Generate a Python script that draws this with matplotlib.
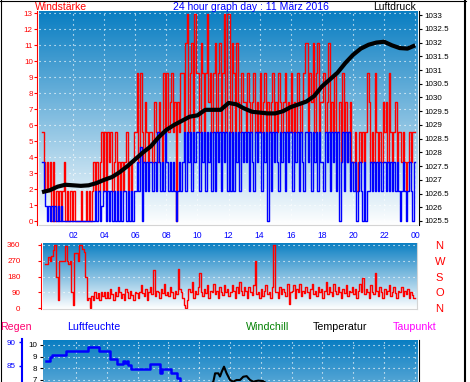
import numpy as np
import matplotlib
matplotlib.use('Agg')
import matplotlib.pyplot as plt
from matplotlib.lines import Line2D

plt.rcParams['font.family'] = ['Liberation Sans', 'DejaVu Sans']

KNOT = 1.852  # km/h per knot

# wind gust and mean wind in knots, one value every 6 minutes (10 per hour)
gust_kn = [
    3, 2, 1, 2, 1, 2, 0, 2, 0, 1,
    0, 1, 0, 1, 2, 0, 1, 0, 1, 0,
    1, 0, 0, 0, 0, 1, 0, 0, 1, 0,
    1, 0, 1, 2, 1, 2, 1, 2, 3, 1,
    3, 1, 3, 2, 3, 1, 2, 3, 1, 2,
    1, 2, 1, 2, 3, 1, 2, 1, 2, 3,
    3, 5, 2, 5, 3, 2, 4, 3, 2, 3,
    3, 2, 4, 3, 2, 4, 3, 2, 5, 3,
    5, 3, 4, 5, 3, 4, 0, 4, 3, 5,
    5, 3, 6, 7, 3, 5, 6, 3, 7, 5,
    5, 3, 6, 5, 3, 5, 7, 4, 5, 3,
    5, 6, 3, 5, 6, 3, 5, 7, 3, 7,
    7, 3, 6, 5, 3, 6, 4, 3, 5, 4,
    4, 3, 5, 4, 3, 4, 5, 3, 4, 3,
    5, 3, 4, 5, 3, 4, 3, 4, 5, 3,
    4, 3, 5, 4, 3, 4, 5, 3, 4, 3,
    5, 3, 4, 3, 5, 4, 3, 4, 5, 6,
    6, 3, 5, 4, 6, 3, 5, 6, 3, 4,
    4, 5, 3, 4, 6, 3, 4, 3, 5, 3,
    3, 4, 2, 5, 3, 4, 2, 3, 4, 2,
    2, 3, 1, 2, 3, 2, 3, 2, 3, 5,
    4, 2, 3, 2, 5, 3, 2, 3, 2, 4,
    3, 4, 2, 5, 3, 2, 3, 4, 2, 3,
    3, 2, 3, 2, 1, 2, 3, 2, 3, 3,
]
avg_kn = [
    2, 1, 0.5, 0, 0.5, 0, 0.5, 0, 0.5, 0,
    0.5, 0, 0.5, 0, 0, 0, 0, 0, 0, 0,
    0, 0, 0, 0, 0, 0, 0, 0, 0, 0,
    0, 0, 0, 0, 1, 0, 1, 0, 0.5, 1,
    1, 0, 1, 0, 1, 0, 1, 0, 1, 0,
    1, 0, 1, 1, 0, 1, 0, 1, 0, 1,
    1, 2, 1, 2.5, 0, 2, 1, 2, 1, 2,
    2, 1, 2, 1, 3, 2, 1, 2, 1, 3,
    2, 1, 2, 1, 2, 1, 0, 1, 2, 1,
    2, 3, 1, 3, 2, 3, 1, 3, 2, 3,
    3, 1, 3, 2, 3, 1, 3, 2, 3, 1,
    3, 1, 3, 2, 3, 1, 3, 2, 3, 1,
    3, 1, 3, 1, 3, 2, 3, 1, 3, 2,
    3, 2, 3, 1, 3, 2, 1, 3, 2, 3,
    3, 1, 3, 2, 3, 0, 3, 1, 3, 2,
    3, 2, 1, 3, 2, 3, 1, 3, 2, 3,
    3, 1, 3, 2, 3, 1, 3, 2, 1, 3,
    3, 2, 3, 1, 3, 2, 3, 1, 3, 2,
    2, 1, 3, 2, 3, 1, 3, 2, 3, 1,
    3, 0, 2, 3, 1, 3, 2, 3, 1, 2,
    1, 2, 0, 1, 2, 1, 0, 2, 0, 1,
    1, 2, 1, 2, 1, 2, 1, 2, 1, 2,
    2, 1, 2, 1, 2, 1, 2, 1, 2, 1,
    0, 1, 2, 1, 0, 1, 2, 1, 0, 2,
]

# air pressure in hPa, every 30 minutes 00:00 .. 24:00
pressure_hpa = [
    1026.55, 1026.62, 1026.75, 1026.82, 1026.80, 1026.78, 1026.80, 1026.88,
    1027.00, 1027.10, 1027.28, 1027.50, 1027.75, 1028.00, 1028.22, 1028.55,
    1028.82, 1029.00, 1029.15, 1029.30, 1029.35, 1029.55, 1029.55, 1029.55,
    1029.80, 1029.75, 1029.60, 1029.48, 1029.45, 1029.42, 1029.42, 1029.50,
    1029.65, 1029.75, 1029.85, 1030.05, 1030.40, 1030.65, 1030.90, 1031.25,
    1031.55, 1031.78, 1031.92, 1032.00, 1032.03, 1031.90, 1031.80, 1031.78,
    1031.90,
]

# wind direction in degrees, every 6 minutes
direction_deg = [
    250, 250, 290, 270, 300, 330, 360, 180, 45, 270,
    270, 270, 270, 355, 270, 250, 270, 90, 20, 315,
    315, 270, 360, 360, 340, 320, 180, 45, 60, 0,
    70, 50, 90, 60, 85, 45, 90, 70, 90, 60,
    90, 60, 110, 80, 45, 95, 70, 120, 90, 60,
    80, 45, 110, 90, 60, 100, 75, 50, 95, 85,
    60, 90, 130, 85, 70, 110, 45, 90, 120, 80,
    220, 70, 100, 90, 60, 110, 85, 140, 75, 95,
    70, 120, 90, 60, 100, 80, 225, 110, 90, 60,
    20, 0, 45, 110, 90, 150, 60, 100, 80, 120,
    200, 90, 70, 110, 85, 130, 60, 100, 90, 140,
    80, 100, 60, 120, 95, 75, 130, 90, 110, 70,
    90, 130, 100, 60, 120, 85, 150, 100, 75, 120,
    100, 60, 120, 90, 75, 130, 270, 80, 90, 60,
    110, 70, 100, 130, 80, 90, 60, 120, 360, 95,
    90, 60, 120, 80, 110, 95, 70, 140, 25, 90,
    100, 130, 60, 110, 90, 140, 70, 100, 85, 120,
    90, 60, 110, 140, 80, 100, 70, 120, 90, 110,
    60, 100, 150, 80, 120, 90, 70, 140, 100, 80,
    120, 90, 60, 110, 85, 130, 70, 100, 90, 120,
    80, 110, 60, 100, 140, 90, 170, 80, 110, 90,
    60, 130, 90, 80, 200, 100, 70, 120, 90, 60,
    110, 80, 100, 130, 70, 90, 120, 85, 60, 100,
    90, 120, 70, 100, 80, 110, 60, 90, 75, 60,
]

# relative humidity (%), step changes
hum_hours = [0.05, 0.31, 0.42, 1.32, 2.77, 3.48, 4.2, 4.64, 5.07, 5.18, 5.29,
             5.35, 5.6, 6.8, 7.45, 7.6, 8.2, 8.54, 8.75, 9.0, 9.5, 10.5]
hum_pct = [86.1, 86.9, 87.3, 88.1, 89.1, 88.2, 86.4, 85.3, 86.1, 85.6, 86.1,
           85.1, 84.3, 85.3, 83.4, 84.3, 83.4, 82.3, 81.0, 79.5, 77.5, 76.0]

# temperature (deg C)
temp_hours = [0, 3, 6, 9, 10.5, 10.92, 11.03, 11.24, 11.35, 11.46, 11.61, 11.78,
              12.0, 12.2, 12.43, 12.65, 12.86, 13.08, 13.3, 13.5, 13.84, 14.16,
              14.6, 16, 18, 20, 22, 24]
temp_c = [3.5, 3.0, 3.8, 5.2, 6.3, 6.86, 7.57, 7.57, 7.3, 7.7, 8.14, 7.57,
          7.0, 6.86, 7.0, 7.0, 7.28, 7.33, 7.0, 6.86, 6.95, 6.9,
          6.5, 6.2, 5.8, 5.0, 4.5, 4.2]

hour_ticks = [2, 4, 6, 8, 10, 12, 14, 16, 18, 20, 22, 24]
hour_labels = ['02', '04', '06', '08', '10', '12', '14', '16', '18', '20', '22', '00']
compass_ticks = [360, 270, 180, 90, 0]
compass_labels = ['N', 'W', 'S', 'O', 'N']

W, H = 470, 382
fig = plt.figure(figsize=(W / 100, H / 100), dpi=100)


def box(l, t, r, b):
    return [l / W, 1 - b / H, (r - l) / W, (b - t) / H]


def gradient(ax):
    top = np.array([0.03, 0.49, 0.76])
    f = np.linspace(0, 1, 256)[:, None, None]
    img = top + (1 - top) * f
    ax.imshow(img, extent=(0, 1, 0, 1), transform=ax.transAxes,
              aspect='auto', zorder=0, interpolation='bilinear')


grid_style = dict(color='white', lw=0.8, ls=(0, (1, 3.5)))
dotted = (0, (1, 1))
wind_lw = 1.0

# ---------------- wind speed + pressure ----------------
ax1 = fig.add_axes(box(38.7, 11, 417.3, 225))
gradient(ax1)
t = np.arange(len(gust_kn) + 1) * 0.1
g = np.array(gust_kn + gust_kn[-1:]) * KNOT
a = np.array(avg_kn + avg_kn[-1:]) * KNOT
ax1.step(t, g, where='post', color='red', lw=wind_lw, zorder=2)
ax1.step(t, a, where='post', color='blue', lw=wind_lw, zorder=3)
ax1.set_xlim(-0.212, 24.135)
ax1.set_ylim(-0.25, 13.125)
ax1.set_yticks(range(14))
ax1.set_xticks(hour_ticks, hour_labels)
ax1.set_axisbelow(True)
ax1.grid(**grid_style)
ax1.tick_params(axis='y', colors='red', labelsize=5.8, length=2, width=0.8, pad=1)
ax1.tick_params(axis='x', length=0, pad=4.5, labelsize=6.2, labelcolor='blue')
for s in ('top', 'right'):
    ax1.spines[s].set_visible(False)
ax1.spines['left'].set_position(('outward', 1.2))
ax1.spines['left'].set_color('red')
ax1.spines['left'].set_linestyle(dotted)
ax1.spines['left'].set_linewidth(0.8)
ax1.spines['bottom'].set_color('#d4d4d4')

ax1r = ax1.twinx()
ax1r.plot(np.arange(len(pressure_hpa)) * 0.5, pressure_hpa, color='black',
          lw=3.0, solid_capstyle='butt')
ax1r.set_ylim(1025.354, 1033.15)
pticks = np.arange(1025.5, 1033.01, 0.5)
ax1r.set_yticks(pticks, ['%g' % v for v in pticks])
ax1r.tick_params(axis='y', colors='black', labelsize=5.8, length=2.2, width=0.8, pad=1.8)
for s in ('top', 'left', 'bottom'):
    ax1r.spines[s].set_visible(False)
ax1r.spines['right'].set_position(('outward', 1.4))
ax1r.spines['right'].set_linestyle(dotted)
ax1r.spines['right'].set_linewidth(0.8)

# ---------------- wind direction ----------------
ax2 = fig.add_axes(box(43.3, 242.7, 417.3, 309.3))
gradient(ax2)
td = np.arange(len(direction_deg) + 1) * 0.1
ax2.step(td, direction_deg + direction_deg[-1:], where='post', color='red',
         lw=wind_lw, zorder=2)
ax2.set_xlim(-0.123, 24.16)
ax2.set_ylim(-5.7, 373)
ax2.set_yticks([0, 90, 180, 270, 360])
ax2.set_xticks([])
ax2.set_axisbelow(True)
ax2.grid(axis='y', **grid_style)
ax2.tick_params(axis='y', colors='red', labelsize=5.8, length=2.5, width=0.8, pad=12.5)
for s in ('top', 'right'):
    ax2.spines[s].set_visible(False)
ax2.spines['left'].set_position(('outward', 1.4))
ax2.spines['left'].set_color('red')
ax2.spines['left'].set_linestyle(dotted)
ax2.spines['left'].set_linewidth(0.8)
ax2.spines['bottom'].set_color('#d4d4d4')

ax2r = ax2.twinx()
ax2r.set_ylim(-5.7, 373)
ax2r.set_yticks(compass_ticks, compass_labels)
ax2r.tick_params(axis='y', length=0, pad=13, labelsize=8, labelcolor='red')
for s in ('top', 'left', 'bottom'):
    ax2r.spines[s].set_visible(False)
ax2r.spines['right'].set_color('#d4d4d4')

# ---------------- humidity + temperature ----------------
ax3 = fig.add_axes(box(42.7, 339.5, 416.7, 480))
gradient(ax3)
ax3.plot(temp_hours, temp_c, color='black', lw=1.5, zorder=2)
ax3.set_xlim(-0.162, 24.12)
ax3.set_ylim(-1.57, 10.47)
ax3.yaxis.tick_right()
ax3.set_yticks([7, 8, 9, 10])
ax3.set_xticks(hour_ticks)
ax3.tick_params(axis='x', length=0, labelbottom=False)
ax3.tick_params(axis='y', colors='black', labelsize=5.8, length=2.2, width=0.8, pad=1.8)
ax3.set_axisbelow(True)
ax3.grid(**grid_style)
for s in ('top', 'left', 'bottom'):
    ax3.spines[s].set_visible(False)
ax3.spines['right'].set_position(('outward', 1.8))
ax3.spines['right'].set_linestyle(dotted)
ax3.spines['right'].set_linewidth(0.8)

ax3h = ax3.twinx()
ax3h.step(hum_hours, hum_pct, where='post', color='blue', lw=1.8)
ax3h.set_ylim(60.6, 90.6)
ax3h.yaxis.set_ticks_position('left')
ax3h.set_yticks([85, 90])
ax3h.tick_params(axis='y', colors='blue', labelsize=5.8, length=2.2, width=1, pad=2)
for s in ('top', 'right', 'bottom'):
    ax3h.spines[s].set_visible(False)
ax3h.spines['left'].set_visible(True)
ax3h.spines['left'].set_position(('outward', 15.1))
ax3h.spines['left'].set_color('blue')
ax3h.spines['left'].set_linewidth(1.5)

# ---------------- titles ----------------
def label(x, y, s, color, ha='left', size=7.5):
    fig.text(x / W, 1 - y / H, s, color=color, ha=ha, va='center', fontsize=size)


label(35, 6.5, 'Windstärke', 'red')
label(251, 6.5, '24 hour graph day : 11 März 2016', 'blue', ha='center')
label(416, 6.5, 'Luftdruck', 'black', ha='right')
label(0.5, 326.5, 'Regen', '#ff0070', size=7.7)
label(67, 326.5, 'Luftfeuchte', 'blue', size=7.7)
label(246, 326.5, 'Windchill', 'green', size=7.7)
label(313, 326.5, 'Temperatur', 'black', size=7.7)
label(393, 326.5, 'Taupunkt', 'magenta', size=7.7)

# outer frame lines
fig.add_artist(Line2D([0.5 / W, 0.5 / W], [0, 1], color='black', lw=0.8))
fig.add_artist(Line2D([0, 466 / W], [1 - 0.5 / H, 1 - 0.5 / H], color='black', lw=0.8))
fig.add_artist(Line2D([465 / W, 465 / W], [0, 1], color='black', lw=1.5))

fig.savefig('out.png', dpi=100)
